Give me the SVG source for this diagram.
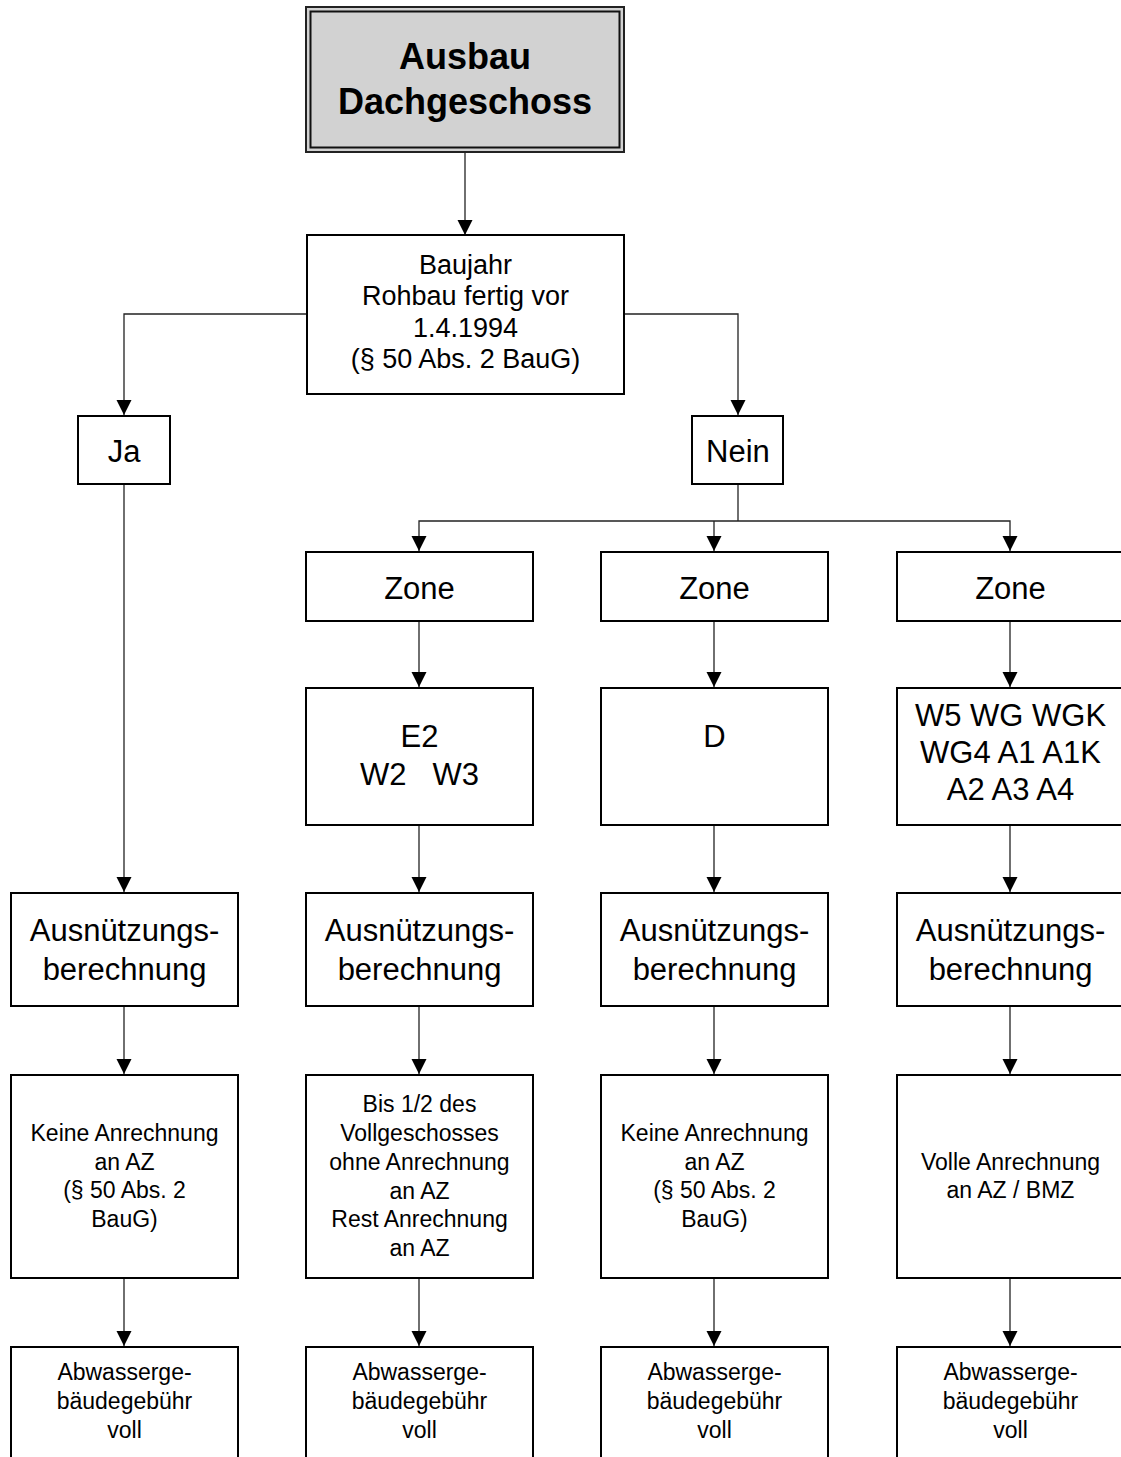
<svg xmlns="http://www.w3.org/2000/svg" width="1121" height="1457" viewBox="0 0 1121 1457">
<style>
.box{fill:#fff;stroke:#000;stroke-width:2}
.c{fill:none;stroke:#222;stroke-width:1.3}
text{font-family:"Liberation Sans",Arial,sans-serif;fill:#000;text-anchor:middle}
.t{font-size:36px;font-weight:bold}
.m{font-size:27px}
.l{font-size:31px}
.s{font-size:23px}
</style>
<defs>
<marker id="ah" markerUnits="userSpaceOnUse" markerWidth="16" markerHeight="16" refX="15" refY="7.5" orient="auto">
<path d="M0,0 L15,7.5 L0,15 z" fill="#000"/>
</marker>
</defs>
<rect width="1121" height="1457" fill="#fff"/>

<g id="connectors">
<line class="c" x1="465" y1="152" x2="465" y2="235" marker-end="url(#ah)"/>
<polyline class="c" points="307,314 124,314 124,415" marker-end="url(#ah)"/>
<polyline class="c" points="624,314 738,314 738,415" marker-end="url(#ah)"/>
<line class="c" x1="124" y1="484" x2="124" y2="892" marker-end="url(#ah)"/>
<polyline class="c" points="738,484 738,521"/>
<polyline class="c" points="738,521 419,521 419,551" marker-end="url(#ah)"/>
<polyline class="c" points="738,521 1010,521 1010,551" marker-end="url(#ah)"/>
<line class="c" x1="714" y1="521" x2="714" y2="551" marker-end="url(#ah)"/>
<line class="c" x1="419" y1="621" x2="419" y2="687" marker-end="url(#ah)"/>
<line class="c" x1="714" y1="621" x2="714" y2="687" marker-end="url(#ah)"/>
<line class="c" x1="1010" y1="621" x2="1010" y2="687" marker-end="url(#ah)"/>
<line class="c" x1="419" y1="825" x2="419" y2="892" marker-end="url(#ah)"/>
<line class="c" x1="714" y1="825" x2="714" y2="892" marker-end="url(#ah)"/>
<line class="c" x1="1010" y1="825" x2="1010" y2="892" marker-end="url(#ah)"/>
<line class="c" x1="124" y1="1006" x2="124" y2="1074" marker-end="url(#ah)"/>
<line class="c" x1="419" y1="1006" x2="419" y2="1074" marker-end="url(#ah)"/>
<line class="c" x1="714" y1="1006" x2="714" y2="1074" marker-end="url(#ah)"/>
<line class="c" x1="1010" y1="1006" x2="1010" y2="1074" marker-end="url(#ah)"/>
<line class="c" x1="124" y1="1278" x2="124" y2="1346" marker-end="url(#ah)"/>
<line class="c" x1="419" y1="1278" x2="419" y2="1346" marker-end="url(#ah)"/>
<line class="c" x1="714" y1="1278" x2="714" y2="1346" marker-end="url(#ah)"/>
<line class="c" x1="1010" y1="1278" x2="1010" y2="1346" marker-end="url(#ah)"/>
</g>

<g id="title">
<rect x="306" y="7" width="318" height="145" fill="#d2d2d2" stroke="#222" stroke-width="2"/>
<rect x="310.5" y="11.5" width="309" height="136" fill="none" stroke="#111" stroke-width="2"/>
<text class="t" x="465" y="69">Ausbau</text>
<text class="t" x="465" y="114">Dachgeschoss</text>
</g>

<g id="baujahr">
<rect class="box" x="307" y="235" width="317" height="159"/>
<text class="m" x="465.5" y="274">Baujahr</text>
<text class="m" x="465.5" y="305">Rohbau fertig vor</text>
<text class="m" x="465.5" y="337">1.4.1994</text>
<text class="m" x="465.5" y="368">(§ 50 Abs. 2 BauG)</text>
</g>

<g id="ja">
<rect class="box" x="78" y="416" width="92" height="68"/>
<text class="l" x="124" y="462">Ja</text>
</g>
<g id="nein">
<rect class="box" x="692" y="416" width="91" height="68"/>
<text class="l" x="738" y="462">Nein</text>
</g>

<g id="zone1">
<rect class="box" x="306" y="552" width="227" height="69"/>
<text class="l" x="419.5" y="599">Zone</text>
</g>
<g id="zone2">
<rect class="box" x="601" y="552" width="227" height="69"/>
<text class="l" x="714.5" y="599">Zone</text>
</g>
<g id="zone3">
<rect class="box" x="897" y="552" width="227" height="69"/>
<text class="l" x="1010.5" y="599">Zone</text>
</g>

<g id="zonen1">
<rect class="box" x="306" y="688" width="227" height="137"/>
<text class="l" x="419.5" y="747">E2</text>
<text class="l" x="419.5" y="785" xml:space="preserve">W2   W3</text>
</g>
<g id="zonen2">
<rect class="box" x="601" y="688" width="227" height="137"/>
<text class="l" x="714.5" y="747">D</text>
</g>
<g id="zonen3">
<rect class="box" x="897" y="688" width="227" height="137"/>
<text class="l" x="1010.5" y="726">W5 WG WGK</text>
<text class="l" x="1010.5" y="763">WG4 A1 A1K</text>
<text class="l" x="1010.5" y="800">A2 A3 A4</text>
</g>

<g id="ausn1">
<rect class="box" x="11" y="893" width="227" height="113"/>
<text class="l" x="124.5" y="941">Ausnützungs-</text>
<text class="l" x="124.5" y="980">berechnung</text>
</g>
<g id="ausn2">
<rect class="box" x="306" y="893" width="227" height="113"/>
<text class="l" x="419.5" y="941">Ausnützungs-</text>
<text class="l" x="419.5" y="980">berechnung</text>
</g>
<g id="ausn3">
<rect class="box" x="601" y="893" width="227" height="113"/>
<text class="l" x="714.5" y="941">Ausnützungs-</text>
<text class="l" x="714.5" y="980">berechnung</text>
</g>
<g id="ausn4">
<rect class="box" x="897" y="893" width="227" height="113"/>
<text class="l" x="1010.5" y="941">Ausnützungs-</text>
<text class="l" x="1010.5" y="980">berechnung</text>
</g>

<g id="anr1">
<rect class="box" x="11" y="1075" width="227" height="203"/>
<text class="s" x="124.5" y="1141">Keine Anrechnung</text>
<text class="s" x="124.5" y="1170">an AZ</text>
<text class="s" x="124.5" y="1198">(§ 50 Abs. 2</text>
<text class="s" x="124.5" y="1227">BauG)</text>
</g>
<g id="anr2">
<rect class="box" x="306" y="1075" width="227" height="203"/>
<text class="s" x="419.5" y="1112">Bis 1/2 des</text>
<text class="s" x="419.5" y="1141">Vollgeschosses</text>
<text class="s" x="419.5" y="1170">ohne Anrechnung</text>
<text class="s" x="419.5" y="1199">an AZ</text>
<text class="s" x="419.5" y="1227">Rest Anrechnung</text>
<text class="s" x="419.5" y="1256">an AZ</text>
</g>
<g id="anr3">
<rect class="box" x="601" y="1075" width="227" height="203"/>
<text class="s" x="714.5" y="1141">Keine Anrechnung</text>
<text class="s" x="714.5" y="1170">an AZ</text>
<text class="s" x="714.5" y="1198">(§ 50 Abs. 2</text>
<text class="s" x="714.5" y="1227">BauG)</text>
</g>
<g id="anr4">
<rect class="box" x="897" y="1075" width="227" height="203"/>
<text class="s" x="1010.5" y="1170">Volle Anrechnung</text>
<text class="s" x="1010.5" y="1198">an AZ / BMZ</text>
</g>

<g id="abw1">
<rect class="box" x="11" y="1347" width="227" height="125"/>
<text class="s" x="124.5" y="1380">Abwasserge-</text>
<text class="s" x="124.5" y="1409">bäudegebühr</text>
<text class="s" x="124.5" y="1438">voll</text>
</g>
<g id="abw2">
<rect class="box" x="306" y="1347" width="227" height="125"/>
<text class="s" x="419.5" y="1380">Abwasserge-</text>
<text class="s" x="419.5" y="1409">bäudegebühr</text>
<text class="s" x="419.5" y="1438">voll</text>
</g>
<g id="abw3">
<rect class="box" x="601" y="1347" width="227" height="125"/>
<text class="s" x="714.5" y="1380">Abwasserge-</text>
<text class="s" x="714.5" y="1409">bäudegebühr</text>
<text class="s" x="714.5" y="1438">voll</text>
</g>
<g id="abw4">
<rect class="box" x="897" y="1347" width="227" height="125"/>
<text class="s" x="1010.5" y="1380">Abwasserge-</text>
<text class="s" x="1010.5" y="1409">bäudegebühr</text>
<text class="s" x="1010.5" y="1438">voll</text>
</g>
</svg>
